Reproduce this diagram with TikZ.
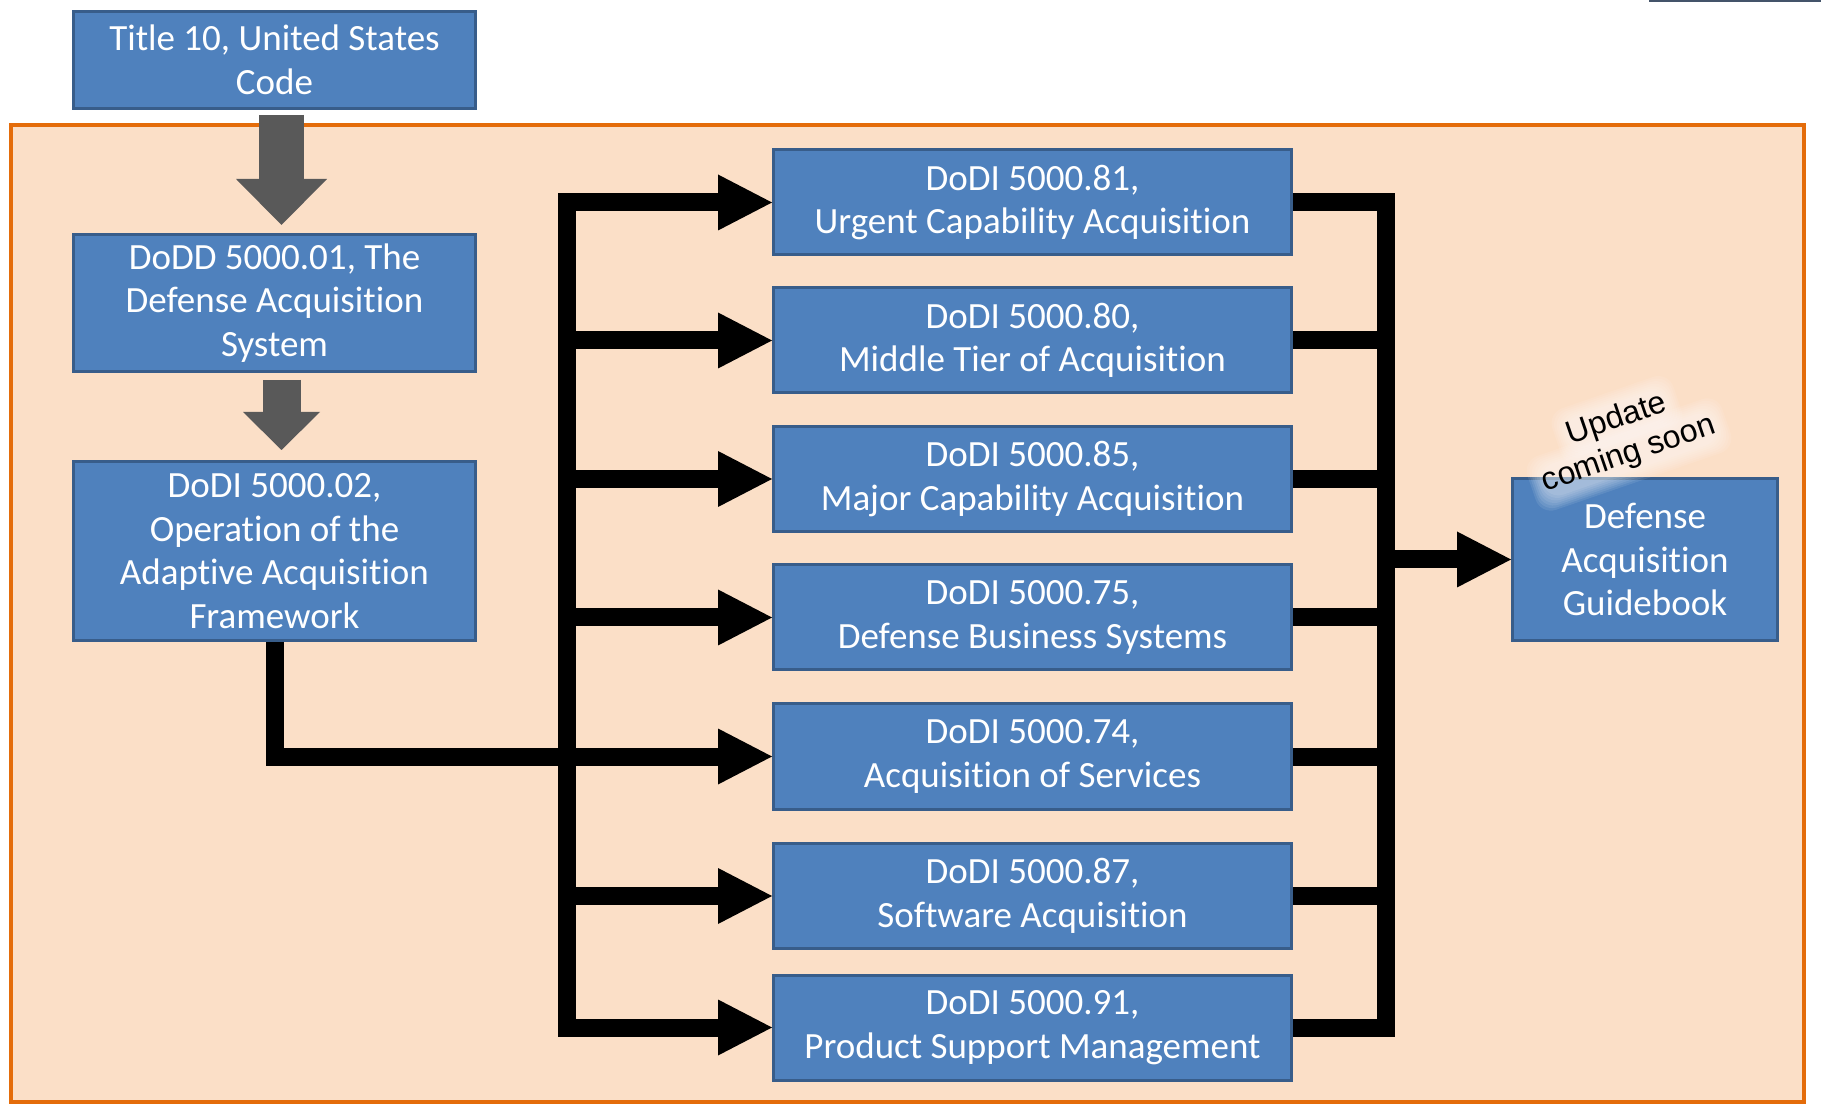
\documentclass[tikz,border=0pt]{standalone}
\usepackage{fontspec}
\setmainfont{Carlito}[Ligatures=NoCommon]
\newfontfamily\arialfont{Liberation Sans}
\usetikzlibrary{arrows.meta,calc}
\definecolor{boxblue}{HTML}{4F81BD}
\definecolor{boxedge}{HTML}{385D8A}
\definecolor{peach}{HTML}{FBDFC7}
\definecolor{frameorange}{HTML}{E46C0A}
\definecolor{arrowgray}{HTML}{595959}
\definecolor{slate}{HTML}{44546A}
\begin{document}
\begin{tikzpicture}[x=0.5pt,y=-0.5pt,
  docbox/.style={draw=boxedge, line width=1.5pt, fill=boxblue, text=white, align=center,
    inner sep=0pt, font=\fontsize{18.5}{21.8}\selectfont},
  midbox/.style={docbox, minimum width=259pt, minimum height=52.5pt},
  leftbox/.style={docbox, minimum width=201pt},
  bus/.style={line width=9pt, draw=black},
  busarrow/.style={bus, -{Triangle[length=27pt,width=28pt,line width=0pt]}},
  grayarrowa/.style={draw=arrowgray, line width=22.5pt, -{Triangle[length=23pt,width=45.5pt,line width=0pt]}},
  grayarrowb/.style={draw=arrowgray, line width=19pt, -{Triangle[length=19pt,width=38.5pt,line width=0pt]}},
  glow/.style={fill=white, opacity=0.09},
]
\useasboundingbox (0,0) rectangle (1821,1106);
\fill[white] (0,0) rectangle (1821,1106);
% fragment of a box above the picture
\fill[slate] (1649,0) rectangle (1821,2);
% orange frame
\draw[frameorange, fill=peach, line width=2pt] (11,125) rectangle (1804,1102);

% left column
\node[leftbox, minimum height=48.5pt] (title) at (274.5,60) {Title 10, United States\\Code};
\node[leftbox, minimum height=68.5pt] (dodd) at (274.5,303) {DoDD 5000.01, The\\Defense Acquisition\\System};
\node[leftbox, minimum height=89.5pt] (dodi02) at (274.5,551) {DoDI 5000.02,\\Operation of the\\Adaptive Acquisition\\Framework};

% middle column
\node[midbox] (m1) at (1032.5,202.5) {DoDI 5000.81,\\Urgent Capability Acquisition};
\node[midbox] (m2) at (1032.5,340.5) {DoDI 5000.80,\\Middle Tier of Acquisition};
\node[midbox] (m3) at (1032.5,479) {DoDI 5000.85,\\Major Capability Acquisition};
\node[midbox] (m4) at (1032.5,617.5) {DoDI 5000.75,\\Defense Business Systems};
\node[midbox] (m5) at (1032.5,756.5) {DoDI 5000.74,\\Acquisition of Services};
\node[midbox] (m6) at (1032.5,896) {DoDI 5000.87,\\Software Acquisition};
\node[midbox] (m7) at (1032.5,1027.5) {DoDI 5000.91,\\Product Support Management};

% guidebook
\node[docbox, minimum width=132.5pt, minimum height=81pt] (guide) at (1645,559.5) {Defense\\Acquisition\\Guidebook};

% gray arrows
\draw[grayarrowa] ([xshift=3.5pt,yshift=-2.5pt]title.south) -- ([xshift=3.5pt,yshift=4pt]dodd.north);
\draw[grayarrowb] ([xshift=3.5pt,yshift=-3.5pt]dodd.south) -- ([xshift=3.5pt,yshift=5pt]dodi02.north);

% buses
\coordinate (lb) at (567,0);
\coordinate (rb) at (1386,0);
\draw[bus, line cap=rect] (lb |- m1.west) -- (lb |- m7.west);
\foreach \m in {m1,m2,m3,m4,m6,m7}{
  \draw[busarrow] (lb |- \m.west) -- (\m.west);
}
\draw[busarrow] (dodi02.south) -- (dodi02.south |- m5.west) -- (m5.west);

\draw[bus, line cap=rect] (rb |- m1.east) -- (rb |- m7.east);
\foreach \m in {m1,m2,m3,m4,m5,m6,m7}{
  \draw[bus] (\m.east) -- (rb |- \m.east);
}
\draw[busarrow] (rb |- guide.west) -- (guide.west);

% update note
\coordinate (updc) at (1623,437);
\begin{scope}[shift={(updc)}, rotate=19]
  \foreach \g in {12,10,8,6,4,2,0}{
    \fill[glow, rounded corners=8pt] (-52-\g,-35-\g) rectangle (52+\g,-2+\g);
    \fill[glow, rounded corners=8pt] (-91-\g,2-\g) rectangle (91+\g,35+\g);
  }
\end{scope}
\node[font=\arialfont\fontsize{16}{18.5}\selectfont, rotate=19, align=center, inner sep=0pt, text=black] (upd) at (updc) {Update\\coming soon};
\end{tikzpicture}
\end{document}
